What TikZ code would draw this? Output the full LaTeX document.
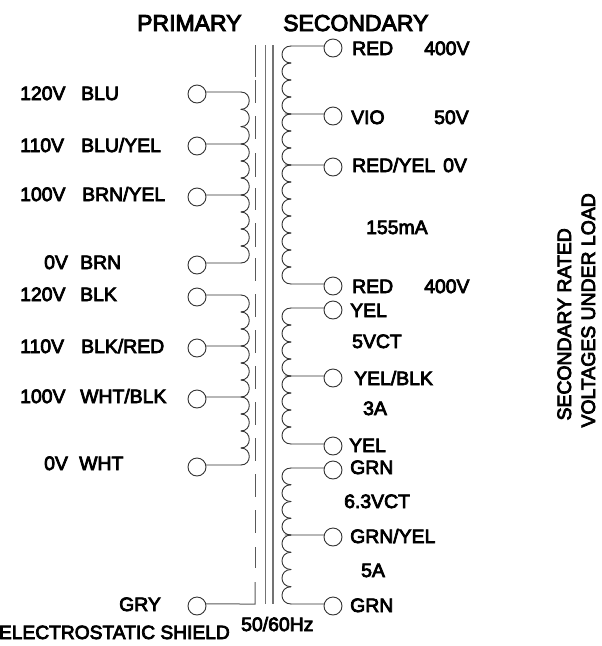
\documentclass[tikz,border=0pt]{standalone}
\usepackage{fontspec}
\setmainfont{Liberation Sans}[FakeBold=4]
\tikzset{x=1pt,y=-1pt,
 term/.style={circle,draw=black!80,line width=.9pt,minimum size=18pt,inner sep=0pt,outer sep=0pt},
 lbl/.style={inner sep=0pt,anchor=base west,font=\fontsize{19.4}{19.4}\selectfont},
 ttl/.style={inner sep=0pt,anchor=base west,font=\fontsize{23}{23}\selectfont},
 wire/.style={line width=.9pt,black!80,line cap=round},
 core/.style={line width=1.1pt,black!55},
 shield/.style={line width=1pt,black!65}}
% \coilsec{cusp x}{y0}{y1}{bumps}{control offset}
\newcommand{\coilsec}[5]{%
 \pgfmathsetmacro{\stp}{(#3-#2)/#4}%
 \pgfmathtruncatemacro{\last}{#4-1}%
 \foreach \i in {0,...,\last}{%
  \pgfmathsetmacro{\ya}{#2+\i*\stp}%
  \pgfmathsetmacro{\yb}{#2+(\i+1)*\stp}%
  \pgfmathsetmacro{\xc}{#1+#5}%
  \draw[wire] (#1,\ya) .. controls (\xc,\ya) and (\xc,\yb) .. (#1,\yb);}}
\begin{document}
\begin{tikzpicture}
\useasboundingbox (0,0) rectangle (602,646);
% core
\coordinate (coreAt) at (265.7,45); \coordinate (coreAb) at (265.7,604);
\coordinate (coreBt) at (273,45); \coordinate (coreBb) at (273,604);
\draw[core] (coreAt) -- (coreAb);
\draw[core] (coreBt) -- (coreBb);
% primary terminals
\foreach \n/\y in {p1/94,p2/146,p3/197,p4/265,p5/297,p6/348,p7/399,p8/467,g/606}
  \node[term] (\n) at (197,\y) {};
% secondary terminals
\foreach \n/\y in {s1/48,s2/116,s3/167,s4/286,s5/310,s6/378,s7/446,s8/470,s9/537,s10/606}
  \node[term] (\n) at (333,\y) {};
% primary windings
\foreach \n/\y in {p1/92,p2/144,p3/195,p4/263,p5/295,p6/346,p7/397,p8/465}
  {\coordinate (w\n) at (241,\y); \draw[wire] (\n.13) -- (w\n);}
\coilsec{241}{92}{144}{3}{11}
\coilsec{241}{144}{195}{3}{11}
\coilsec{241}{195}{263}{4}{11}
\coilsec{241}{295}{346}{3}{11}
\coilsec{241}{346}{397}{3}{11}
\coilsec{241}{397}{465}{4}{11}
% secondary windings
\foreach \n/\y/\x in {s1/46/291,s2/114/285,s3/165/285,s4/284/291,s5/308/291,s6/376/285,s7/444/291,s8/468/291,s9/535/285,s10/604/291}
  {\coordinate (w\n) at (\x,\y); \draw[wire] (\n.167) -- (w\n);}
\coilsec{291}{46}{114}{4}{-12}
\coilsec{291}{114}{165}{3}{-12}
\coilsec{291}{165}{284}{7}{-12}
\coilsec{291}{308}{376}{4}{-12}
\coilsec{291}{376}{444}{4}{-12}
\coilsec{291}{468}{535}{4}{-12}
\coilsec{291}{535}{604}{4}{-12}
% electrostatic shield
\coordinate (sc) at (255,604);
\coordinate (st) at (255,582);
\draw[shield] (g.13) -- (sc) -- (st);
\foreach \a/\b in {547/568,510/533,474/497,438/461,402/425,366/389,330/353,294/317,258/281,223/247,188/210,153/177,116/139,80/103,45/77}
  \draw[shield] (255,\a) -- (255,\b);
% titles
\node[ttl] (tp) at (137,31) {PRIMARY};
\node[ttl] (ts) at (283,31) {SECONDARY};
% left labels
\foreach \n/\x/\y/\t in {a1/20/100/120V,a2/81/100/BLU,a3/20/152/110V,a4/81/152/{BLU/YEL},a5/20/201/100V,a6/82/201/{BRN/YEL},a7/44/269/0V,a8/80/269/BRN,a9/20/301/120V,a10/80/301/BLK,a11/20/353/110V,a12/81/353/{BLK/RED},a13/20/403/100V,a14/80/403/{WHT/BLK},a15/44/470/0V,a16/79/470/WHT,a17/119/611/GRY}
  \node[lbl] (\n) at (\x,\y) {\t};
\node[lbl,anchor=base east,font=\fontsize{19.2}{19.2}\selectfont] (a18) at (230,639) {ELECTROSTATIC SHIELD};
\node[lbl] (a19) at (241,631) {50/60Hz};
% right labels
\foreach \n/\x/\y/\t in {b1/352/55/RED,b2/424/55/400V,b3/351/124/VIO,b4/434/124/50V,b5/352/172/{RED/YEL},b6/443/172/0V,b7/366/234/155mA,b8/352/293/RED,b9/424/293/400V,b10/350/317/YEL,b11/352/348/5VCT,b12/354/385/{YEL/BLK},b13/363/415/3A,b14/349/452/YEL,b15/350/474/GRN,b16/344/508/6.3VCT,b17/350/543/{GRN/YEL},b18/361/577/5A,b19/350/612/GRN}
  \node[lbl] (\n) at (\x,\y) {\t};
% side note
\node[lbl,anchor=base east,rotate=90] (c1) at (571,228) {SECONDARY RATED};
\node[lbl,anchor=base east,rotate=90] (c2) at (595,193) {VOLTAGES UNDER LOAD};
\end{tikzpicture}
\end{document}
